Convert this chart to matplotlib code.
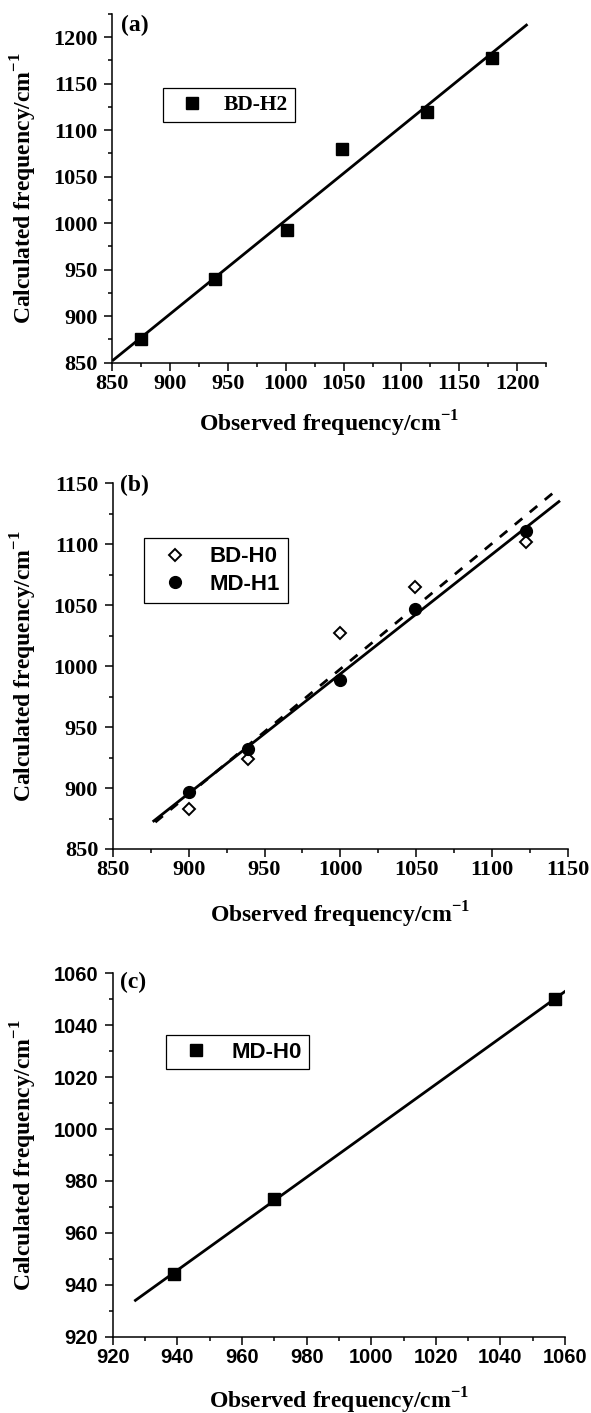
import matplotlib
matplotlib.use("Agg")
import matplotlib.pyplot as plt
from matplotlib.ticker import MultipleLocator

# ---------------- data ----------------
# panel (a)
a_obs = [875, 939, 1001, 1049, 1122, 1178]
a_calc = [876, 940, 993, 1080, 1120, 1178]
a_fit_x = [850, 1209]
a_fit_y = [852, 1214]
a_label = "BD-H2"

# panel (b)
b_obs = [900, 939, 1000, 1049, 1122]
b_bd_h0 = [883, 924, 1027, 1065, 1102]
b_md_h1 = [897, 932, 989, 1047, 1111]
b_fit_md_x = [877, 1144]
b_fit_md_y = [873, 1135]
b_fit_bd_x = [878, 1143]
b_fit_bd_y = [872, 1145]
b_labels = ["BD-H0", "MD-H1"]

# panel (c)
c_obs = [939, 970, 1057]
c_calc = [944, 973, 1050]
c_fit_x = [927, 1060]
c_fit_y = [934, 1053]
c_label = "MD-H0"

xlabel_txt = r"Observed frequency/cm$^{\mathregular{-1}}$"
ylabel_txt = r"Calculated frequency/cm$^{\mathregular{-1}}$"

# ---------------- style ----------------
plt.rcParams["mathtext.fontset"] = "custom"
plt.rcParams["mathtext.rm"] = "Liberation Serif:bold"
plt.rcParams["mathtext.bf"] = "Liberation Serif:bold"
plt.rcParams["axes.linewidth"] = 1.1
plt.rcParams["font.weight"] = "bold"

SERIF = "Liberation Serif"
SANS = "Liberation Sans"

W, H = 591, 1413
fig = plt.figure(figsize=(W / 100, H / 100), dpi=100)


def make_axes(l, r, t, b):
    return fig.add_axes([l / W, 1 - b / H, (r - l) / W, (b - t) / H])


def style(ax, tickfont, ticksize, major, minor, xlab_y, ylab_x):
    for s in ("top", "right"):
        ax.spines[s].set_visible(False)
    ax.xaxis.set_major_locator(MultipleLocator(major))
    ax.xaxis.set_minor_locator(MultipleLocator(minor))
    ax.yaxis.set_major_locator(MultipleLocator(major))
    ax.yaxis.set_minor_locator(MultipleLocator(minor))
    ax.tick_params(which="major", direction="out", length=5.5, width=1.1,
                   labelsize=ticksize, labelfontfamily=tickfont)
    ax.tick_params(axis="x", which="major", pad=2.5)
    ax.tick_params(axis="y", which="major", pad=5)
    ax.tick_params(which="minor", direction="out", length=3, width=1.1)
    ax.set_xlabel(xlabel_txt, fontfamily=SERIF, fontweight="bold", fontsize=17)
    ax.set_ylabel(ylabel_txt, fontfamily=SERIF, fontweight="bold", fontsize=17)
    ax.xaxis.set_label_coords(0.5, xlab_y)
    ax.yaxis.set_label_coords(ylab_x, 0.5)


# ---- panel (a) ----
ax1 = make_axes(112.3, 546, 14, 362.7)
ax1.set_xlim(850, 1225)
ax1.set_ylim(850, 1225)
ax1.plot(a_fit_x, a_fit_y, color="black", lw=2.0, solid_capstyle="butt")
ax1.plot(a_obs, a_calc, "s", color="black", ms=8, label=a_label, clip_on=False)
style(ax1, SERIF, 16, 50, 25, -0.132, -0.17)
ax1.text(0.021, 0.998, "(a)", transform=ax1.transAxes, ha="left", va="top",
         fontfamily=SERIF, fontweight="bold", fontsize=17)
leg = ax1.legend(loc="upper left", bbox_to_anchor=(0.118, 0.787), borderaxespad=0,
                 prop={"family": SERIF, "weight": "bold", "size": 15.5},
                 numpoints=1, handlelength=2.0, handletextpad=0.5, borderpad=0.32,
                 fancybox=False, edgecolor="black", framealpha=1)
leg.get_frame().set_linewidth(0.9)

# ---- panel (b) ----
ax2 = make_axes(112.8, 568, 483.3, 849)
ax2.set_xlim(850, 1150)
ax2.set_ylim(850, 1150)
ax2.plot(b_fit_bd_x, b_fit_bd_y, color="black", lw=2.0, ls=(0, (3.5, 3.5)))
ax2.plot(b_fit_md_x, b_fit_md_y, color="black", lw=2.0)
ax2.plot(b_obs, b_bd_h0, "D", mfc="white", mec="black", mew=1.4, ms=6.5,
         label=b_labels[0])
ax2.plot(b_obs, b_md_h1, "o", color="black", ms=8.5, label=b_labels[1])
style(ax2, SERIF, 16, 50, 25, -0.14, -0.163)
ax2.text(0.016, 1.024, "(b)", transform=ax2.transAxes, ha="left", va="top",
         fontfamily=SERIF, fontweight="bold", fontsize=17)
leg = ax2.legend(loc="upper left", bbox_to_anchor=(0.069, 0.850), borderaxespad=0,
                 prop={"family": SANS, "weight": "bold", "size": 16},
                 numpoints=1, handlelength=2.0, handletextpad=0.55, borderpad=0.37,
                 labelspacing=0.3, fancybox=False, edgecolor="black", framealpha=1)
leg.get_frame().set_linewidth(0.9)

# ---- panel (c) ----
ax3 = make_axes(112.8, 565, 973.3, 1336.7)
ax3.set_xlim(920, 1060)
ax3.set_ylim(920, 1060)
ax3.plot(c_fit_x, c_fit_y, color="black", lw=2.0)
ax3.plot(c_obs, c_calc, "s", color="black", ms=8, label=c_label, clip_on=False)
style(ax3, SANS, 14.5, 20, 10, -0.134, -0.164)
ax3.text(0.016, 1.004, "(c)", transform=ax3.transAxes, ha="left", va="top",
         fontfamily=SERIF, fontweight="bold", fontsize=17)
leg = ax3.legend(loc="upper left", bbox_to_anchor=(0.118, 0.830), borderaxespad=0,
                 prop={"family": SANS, "weight": "bold", "size": 16},
                 numpoints=1, handlelength=2.1, handletextpad=0.55, borderpad=0.3,
                 fancybox=False, edgecolor="black", framealpha=1)
leg.get_frame().set_linewidth(0.9)

fig.savefig("out.png", dpi=100)
